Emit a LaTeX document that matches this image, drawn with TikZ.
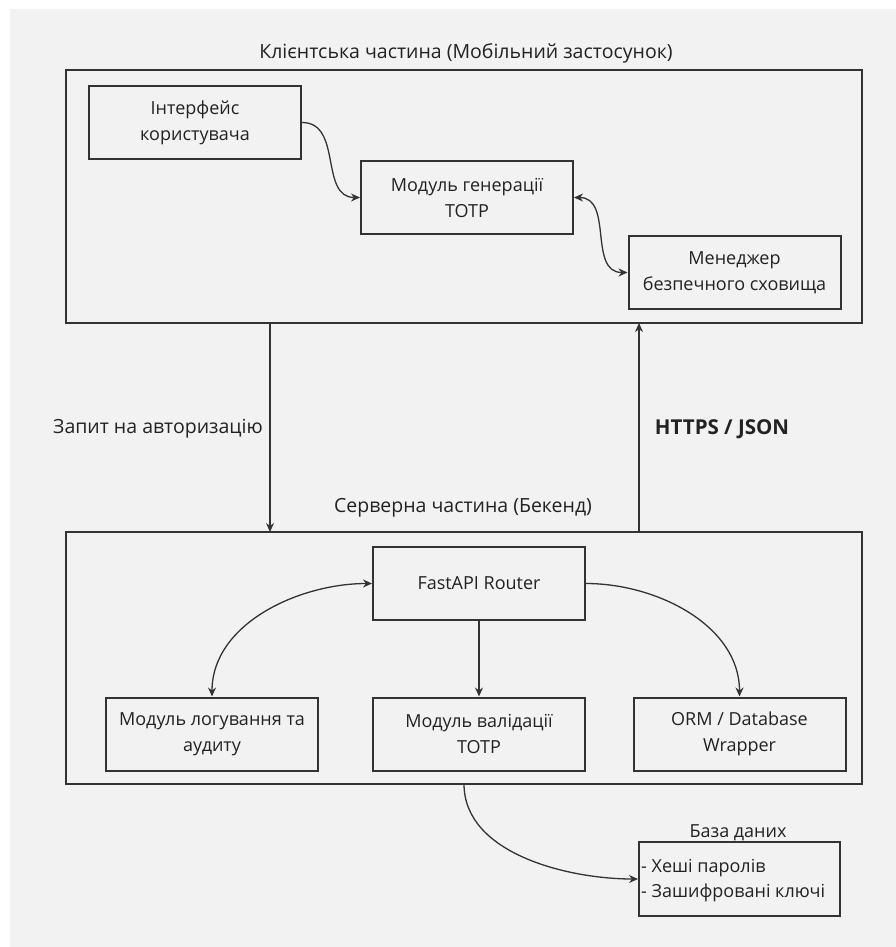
\documentclass[tikz,border=0pt]{standalone}
\usepackage{fontspec}
\setmainfont{Open Sans}
\usetikzlibrary{arrows.meta,calc}
\definecolor{bg}{HTML}{F2F2F2}
\definecolor{ln}{HTML}{333333}
\definecolor{tx}{HTML}{222222}
\tikzset{
  box/.style={draw=ln,line width=2pt,fill=none,minimum width=212pt,minimum height=73pt,inner sep=0pt,align=center,font=\fontsize{18}{26}\selectfont,text=tx},
  cont/.style={draw=ln,line width=2pt},
  conn/.style={draw=ln,line width=1.3pt,-{Stealth[length=9pt,width=8pt]}},
  biconn/.style={draw=ln,line width=1.3pt,{Stealth[length=9pt,width=8pt]}-{Stealth[length=9pt,width=8pt]}},
  lbl/.style={font=\fontsize{19.5}{22}\selectfont,text=tx,inner sep=0pt}
}
\begin{document}
\begin{tikzpicture}[x=1pt,y=-1pt]
\useasboundingbox (0,0) rectangle (896,947);
\fill[white] (0,0) rectangle (896,947);
\fill[bg] (10,9) rectangle (896,947);
% containers
\draw[cont] (66,70) rectangle (862,323);
\coordinate (clientbotL) at (270,323);
\coordinate (clientbotR) at (639,323);
\node[lbl] (ctitle) at (466,53) {Клієнтська частина (Мобільний застосунок)};
\draw[cont] (66,532) rectangle (862,784);
\coordinate (servtopL) at (270,532);
\coordinate (servtopR) at (639,532);
\coordinate (servbot) at (464,784);
\node[lbl] (stitle) at (463,508) {Серверна частина (Бекенд)};
% client nodes
\node[box] (ui) at (195,122.5) {Інтерфейс\\користувача};
\node[box] (gen) at (467,197.5) {Модуль генерації\\TOTP};
\node[box] (mgr) at (734.5,272.5) {Менеджер\\безпечного сховища};
% server nodes
\node[box] (api) at (479,583.5) {FastAPI Router};
\node[box] (log) at (212,734) {Модуль логування та\\аудиту};
\node[box] (val) at (479,734) {Модуль валідації\\TOTP};
\node[box] (orm) at (739.5,734) {ORM / Database\\Wrapper};
% database
\node[draw=ln,line width=2pt,minimum width=201pt,minimum height=74pt,inner sep=0pt] (db) at (739.5,879) {};
\node[lbl,anchor=south,font=\fontsize{18}{22}\selectfont] (dbtitle) at (738,841) {База даних};
\node[lbl,anchor=west,align=left,font=\fontsize{18}{25}\selectfont] (dbtext) at (641,880.5) {- Хеші паролів\\- Зашифровані ключі};
% connectors
\draw[conn] (ui.east) to[out=0,in=180,looseness=1.1] (gen.west);
\draw[biconn] (gen.east) to[out=0,in=180,looseness=1.1] (mgr.west);
\draw[biconn] (log.north) to[out=90,in=180,looseness=0.95] (api.west);
\draw[conn] (api.south) -- (val.north);
\draw[conn] (api.east) to[out=0,in=90,looseness=0.95] (orm.north);
\draw[conn] (clientbotL) -- (servtopL);
\draw[conn] (servtopR) -- (clientbotR);
\draw[conn] (servbot) to[out=-90,in=180,looseness=0.9] (db.west);
\node[lbl] (req) at (158,429) {Запит на авторизацію};
\node[lbl,font=\fontsize{20.5}{22}\bfseries] (https) at (722,429) {HTTPS / JSON};
\end{tikzpicture}
\end{document}
